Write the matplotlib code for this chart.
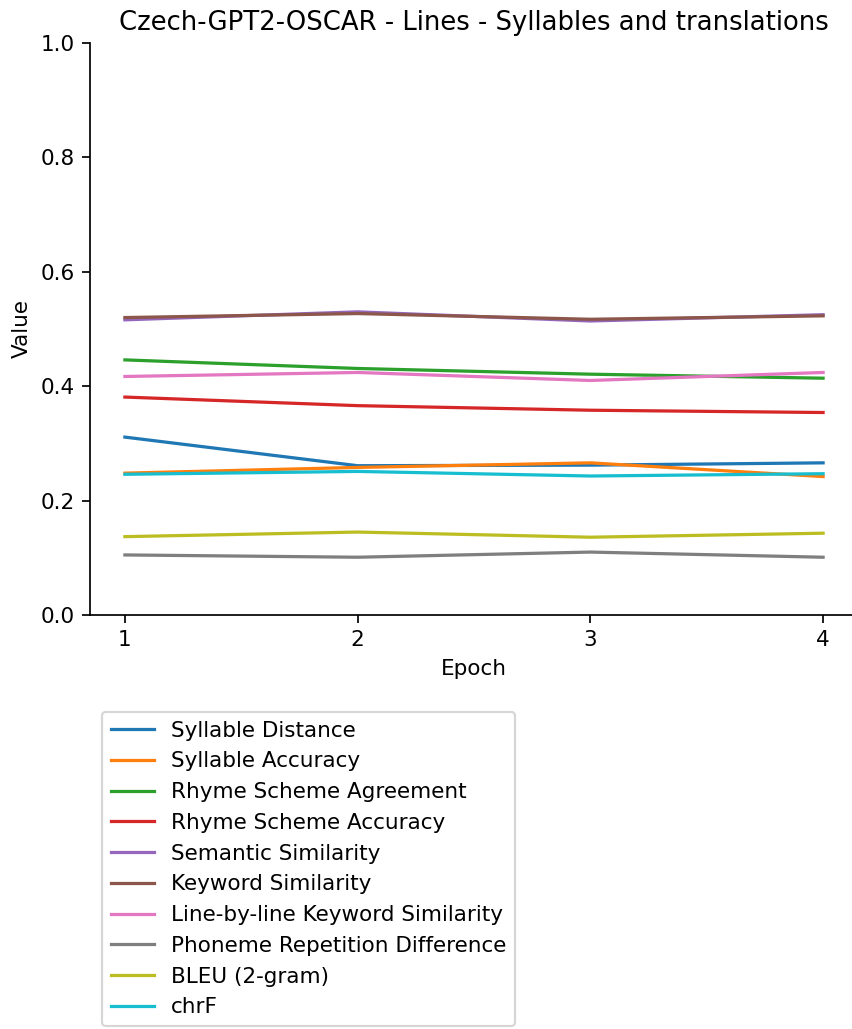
import matplotlib
matplotlib.use("Agg")
import matplotlib.pyplot as plt

epochs = [1, 2, 3, 4]
syllable_distance = [0.311, 0.261, 0.262, 0.266]
syllable_accuracy = [0.248, 0.258, 0.266, 0.242]
rhyme_scheme_agreement = [0.446, 0.431, 0.421, 0.414]
rhyme_scheme_accuracy = [0.381, 0.366, 0.358, 0.354]
semantic_similarity = [0.516, 0.530, 0.514, 0.525]
keyword_similarity = [0.520, 0.527, 0.517, 0.523]
line_keyword_similarity = [0.417, 0.424, 0.410, 0.424]
phoneme_repetition_difference = [0.105, 0.101, 0.110, 0.101]
bleu_2gram = [0.137, 0.145, 0.136, 0.143]
chrf = [0.246, 0.251, 0.243, 0.247]

series = [
    ("Syllable Distance", syllable_distance),
    ("Syllable Accuracy", syllable_accuracy),
    ("Rhyme Scheme Agreement", rhyme_scheme_agreement),
    ("Rhyme Scheme Accuracy", rhyme_scheme_accuracy),
    ("Semantic Similarity", semantic_similarity),
    ("Keyword Similarity", keyword_similarity),
    ("Line-by-line Keyword Similarity", line_keyword_similarity),
    ("Phoneme Repetition Difference", phoneme_repetition_difference),
    ("BLEU (2-gram)", bleu_2gram),
    ("chrF", chrf),
]

DPI = 155
W, H = 852, 1029
fig = plt.figure(figsize=(W / DPI, H / DPI), dpi=DPI)
ax = fig.add_axes([90 / W, 1 - 615 / H, (858 - 90) / W, (615 - 43) / H])

for name, vals in series:
    ax.plot(epochs, vals, label=name)

ax.set_ylim(0, 1)
ax.set_xticks(epochs)
ax.set_xlabel("Epoch")
ax.set_ylabel("Value")
ax.set_title("Czech-GPT2-OSCAR - Lines - Syllables and translations")
ax.spines["top"].set_visible(False)
ax.spines["right"].set_visible(False)

ax.legend(loc="upper left", bbox_to_anchor=(102 / W, 1 - 712 / H),
          bbox_transform=fig.transFigure, borderaxespad=0)

fig.savefig("out.png", dpi=DPI)
